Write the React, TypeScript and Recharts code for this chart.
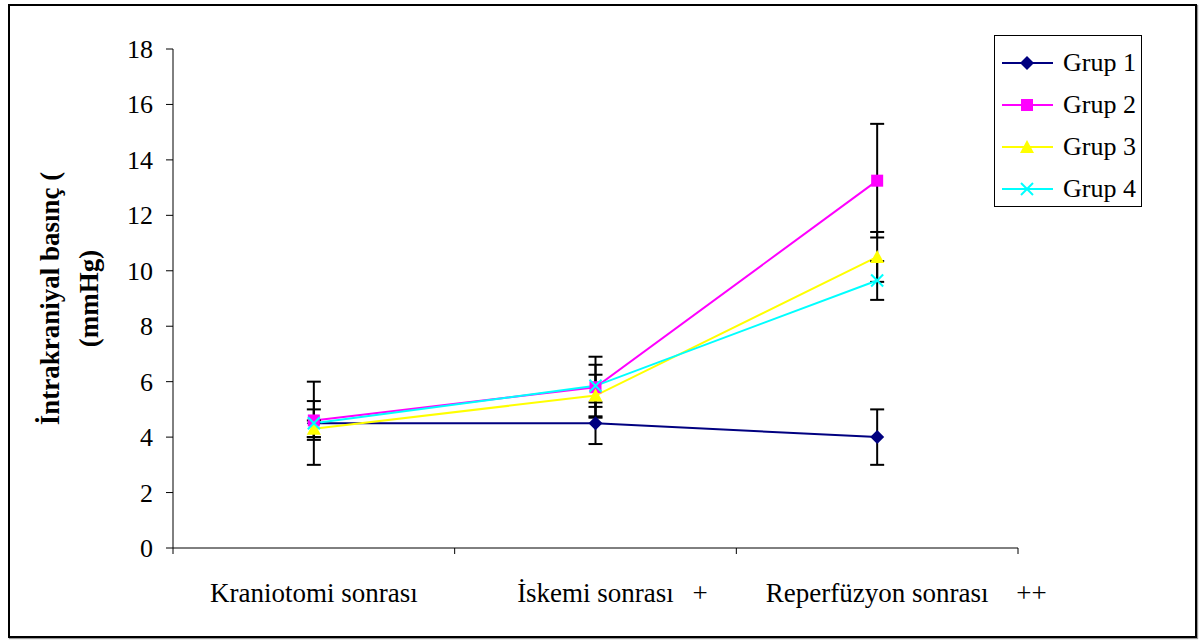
import React from 'react';
import { LineChart, Line, XAxis, YAxis, ErrorBar } from 'recharts';

const categories = ['Kraniotomi sonrası', 'İskemi sonrası', 'Reperfüzyon sonrası'];
const marks = ['', '+', '++'];

const grup1 = [4.5, 4.5, 4.0];
const grup1Err = [1.5, 0.75, 1.0];
const grup2 = [4.6, 5.8, 13.25];
const grup2Err = [0.7, 1.1, 2.05];
const grup3 = [4.3, 5.5, 10.5];
const grup3Err = [0.3, 0.75, 0.9];
const grup4 = [4.5, 5.85, 9.65];
const grup4Err = [0.5, 0.76, 0.7];

const yTicks = [0, 2, 4, 6, 8, 10, 12, 14, 16, 18];
const edgeTicks = [0, 1, 2, 3];

const data = categories.map((name, i) => ({
  name,
  mark: marks[i],
  g1: grup1[i], e1: grup1Err[i],
  g2: grup2[i], e2: grup2Err[i],
  g3: grup3[i], e3: grup3Err[i],
  g4: grup4[i], e4: grup4Err[i],
}));

const series = [
  { key: 'g1', err: 'e1', name: 'Grup 1', color: '#000080', shape: 'diamond' },
  { key: 'g2', err: 'e2', name: 'Grup 2', color: '#FF00FF', shape: 'square' },
  { key: 'g3', err: 'e3', name: 'Grup 3', color: '#FFFF00', shape: 'triangle' },
  { key: 'g4', err: 'e4', name: 'Grup 4', color: '#00FFFF', shape: 'cross' },
];

const FONT = "'Liberation Serif', 'Times New Roman', serif";

function Marker({ cx, cy, shape, color }: any) {
  if (cx == null || cy == null) return <g />;
  if (shape === 'diamond') {
    return <polygon points={`${cx},${cy - 7} ${cx + 7},${cy} ${cx},${cy + 7} ${cx - 7},${cy}`} fill={color} />;
  }
  if (shape === 'square') {
    return <rect x={cx - 6} y={cy - 6} width={12} height={12} fill={color} />;
  }
  if (shape === 'triangle') {
    return <polygon points={`${cx},${cy - 7} ${cx + 7},${cy + 6} ${cx - 7},${cy + 6}`} fill={color} />;
  }
  return (
    <g stroke={color} strokeWidth={2}>
      <line x1={cx - 6} y1={cy - 6} x2={cx + 6} y2={cy + 6} />
      <line x1={cx - 6} y1={cy + 6} x2={cx + 6} y2={cy - 6} />
    </g>
  );
}

function CategoryTick({ x, y, payload, index }: any) {
  const mark = marks[index] ?? '';
  const markOffset = mark === '++' ? 139 : 97;
  return (
    <g>
      <text x={x} y={y + 53} textAnchor="middle" style={{ fontFamily: FONT }} fontSize={27} fill="#000">
        {payload.value}
      </text>
      {mark && (
        <text x={x + markOffset} y={y + 53} style={{ fontFamily: FONT }} fontSize={27} fill="#000">
          {mark}
        </text>
      )}
    </g>
  );
}

function ValueTick({ x, y, payload }: any) {
  return (
    <text x={x} y={y} dy={9} textAnchor="end" style={{ fontFamily: FONT }} fontSize={26} fill="#000">
      {payload.value}
    </text>
  );
}

function YLabel({ viewBox }: any) {
  const cy = viewBox.y + viewBox.height / 2;
  return (
    <g style={{ fontFamily: FONT }} fontWeight="bold" fontSize={27} fill="#000">
      <text x={59} y={cy} textAnchor="middle" transform={`rotate(-90, 59, ${cy})`}>
        İntrakraniyal basınç (
      </text>
      <text x={98} y={cy} textAnchor="middle" transform={`rotate(-90, 98, ${cy})`}>
        (mmHg)
      </text>
    </g>
  );
}

function LegendBox() {
  return (
    <div
      style={{
        position: 'absolute',
        left: 994,
        top: 35,
        border: '1.5px solid #000',
        width: 148,
        height: 172,
        boxSizing: 'border-box',
        paddingTop: 6,
        background: '#fff',
        fontFamily: FONT,
      }}
    >
      {series.map((s) => (
        <div key={s.key} style={{ display: 'flex', alignItems: 'center', height: 42 }}>
          <svg width={60} height={20} style={{ marginLeft: 7 }}>
            <line x1={0} y1={10} x2={51} y2={10} stroke={s.color} strokeWidth={2} />
            <Marker cx={25} cy={10} shape={s.shape} color={s.color} />
          </svg>
          <span style={{ fontSize: 26, marginLeft: 1, lineHeight: 1 }}>{s.name}</span>
        </div>
      ))}
    </div>
  );
}

export default function App() {
  return (
    <div style={{ position: 'absolute', left: 0, top: 0, width: 1204, height: 640, background: '#fff' }}>
      <div
        style={{
          position: 'absolute',
          left: 8,
          top: 4,
          width: 1189,
          height: 634,
          border: '2px solid #000',
          boxSizing: 'border-box',
          boxShadow: '1px 1px 1px #999',
        }}
      />
      <div style={{ position: 'absolute', left: 0, top: 0 }}>
        <LineChart
          width={1204}
          height={640}
          data={data}
          margin={{ top: 49, right: 186, bottom: 32, left: 0 }}
          style={{ fontFamily: FONT }}
        >
          <XAxis
            xAxisId="a-edges"
            dataKey="edge"
            type="number"
            domain={[0, 3]}
            ticks={edgeTicks}
            allowDataOverflow
            height={1}
            stroke="#000"
            tickSize={6}
            tick={() => <g />}
          />
          <XAxis
            xAxisId="b-cat"
            dataKey="name"
            scale="band"
            height={59}
            axisLine={false}
            tickLine={false}
            tickSize={0}
            tickMargin={0}
            interval={0}
            tick={<CategoryTick />}
          />
          <YAxis
            domain={[0, 18]}
            ticks={yTicks}
            width={173}
            stroke="#000"
            tickSize={7}
            tickMargin={13}
            tick={<ValueTick />}
            label={{ content: (p: any) => <YLabel {...p} /> }}
          />
          {series.map((s) => (
            <Line
              key={s.key}
              xAxisId="b-cat"
              dataKey={s.key}
              name={s.name}
              stroke={s.color}
              strokeWidth={2}
              isAnimationActive={false}
              dot={(p: any) => <Marker key={`${s.key}-${p.index}`} cx={p.cx} cy={p.cy} shape={s.shape} color={s.color} />}
              activeDot={false}
            >
              <ErrorBar dataKey={s.err} direction="y" width={7} stroke="#000" strokeWidth={2} isAnimationActive={false} />
            </Line>
          ))}
        </LineChart>
      </div>
      <LegendBox />
    </div>
  );
}
